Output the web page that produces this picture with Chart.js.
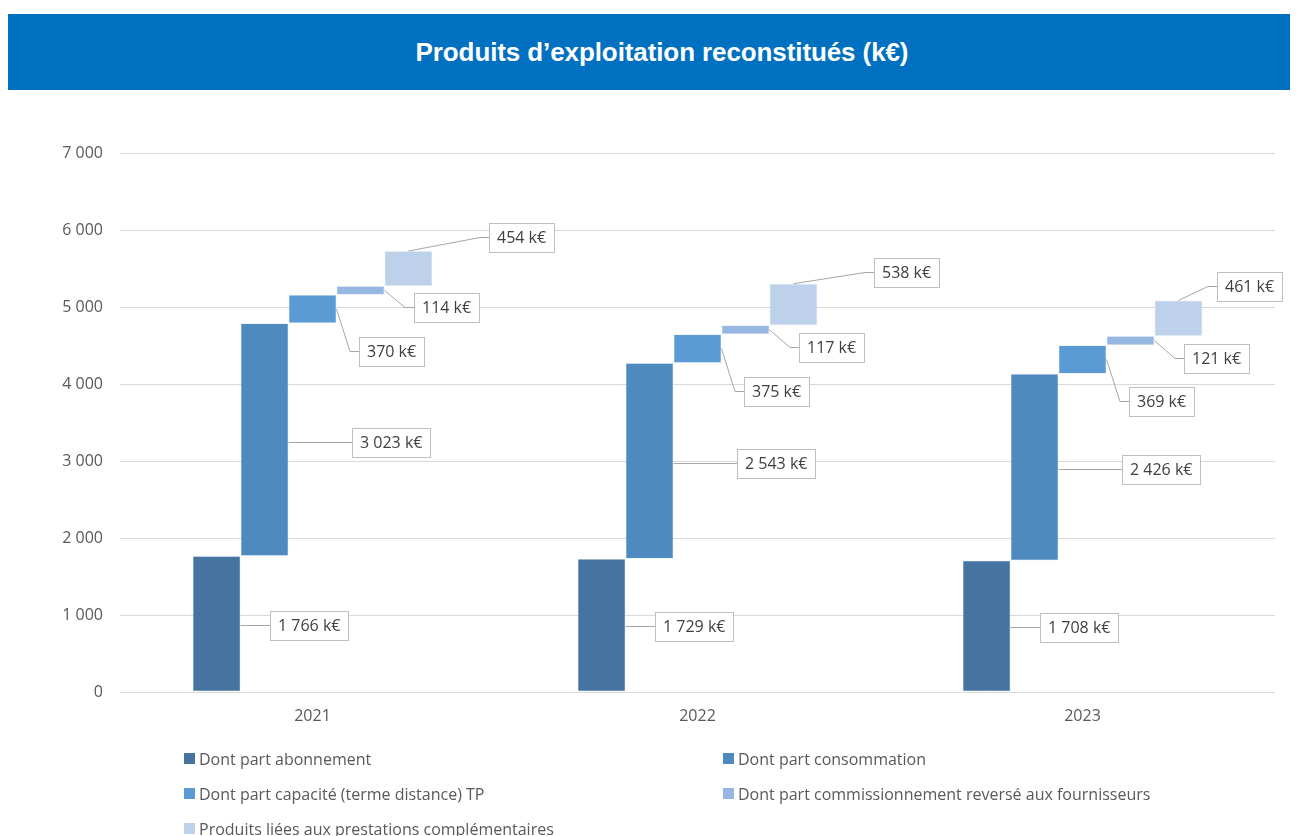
<!DOCTYPE html>
<html lang="fr">
<head>
<meta charset="utf-8">
<title>Produits d'exploitation reconstitués</title>
<script src="https://cdn.jsdelivr.net/npm/chart.js@4.4.1/dist/chart.umd.min.js"></script>
<style>
  body { margin: 0; background: #fff; width: 1299px; height: 836px; overflow: hidden; position: relative; font-family: 'Open Sans', sans-serif; }
  #title { position: absolute; left: 8px; top: 14px; width: 1256px; height: 76px; padding-left: 26px; background: #0070c0; color: #fff;
           font: bold 26px 'Liberation Sans', Arial, sans-serif; letter-spacing: -0.1px;
           display: flex; align-items: center; justify-content: center; }
  #wrap { position: absolute; left: 0; top: 100px; width: 1299px; height: 650px; }
  #legend { position: absolute; left: 184px; top: 741px; display: grid; grid-template-columns: 539px auto; grid-auto-rows: 35px;
            font-size: 16px; color: #595959; }
  #legend div { display: flex; align-items: center; white-space: nowrap; }
  #legend span { display: inline-block; width: 11px; height: 11px; margin-right: 4px; }
</style>
</head>
<body>
<div id="title">Produits d’exploitation reconstitués (k€)</div>
<div id="wrap"><canvas id="chart"></canvas></div>
<div id="legend"></div>
<script>
// years on the x axis
const years = ['2021', '2022', '2023'];

// each component of the operating income, in k€
const abonnement = [1766, 1729, 1708];
const consommation = [3023, 2543, 2426];
const capacite = [370, 375, 369];
const commissionnement = [114, 117, 121];
const prestations = [454, 538, 461];

const seriesNames = [
  'Dont part abonnement',
  'Dont part consommation',
  'Dont part capacité (terme distance) TP',
  'Dont part commissionnement reversé aux fournisseurs',
  'Produits liées aux prestations complémentaires'
];
const seriesValues = [abonnement, consommation, capacite, commissionnement, prestations];
const colors = ['#44749f', '#4f8abf', '#5b9bd5', '#95b7e1', '#bdd1eb'];

// y axis ticks
const yTicks = [0, 1000, 2000, 3000, 4000, 5000, 6000, 7000];

// callout placement per series: box left from bar right edge, box centre from bar middle
const calloutDx = [29, 63, 23, 30, 57];
const calloutDy = [1, 2, 42, 17, -32];

function fmt(v) {
  return String(v).replace(/\B(?=(\d{3})+(?!\d))/g, ' ');
}

// waterfall: each piece floats on top of the running total
let running = years.map(() => 0);
const datasets = seriesValues.map((vals, s) => {
  const data = vals.map((v, i) => [running[i], running[i] + v]);
  running = running.map((r, i) => r + vals[i]);
  return {
    label: seriesNames[s],
    data: data,
    values: vals,
    backgroundColor: colors[s],
    borderColor: 'rgba(220,231,244,0.7)',
    borderWidth: 0.75,
    borderSkipped: false,
    categoryPercentage: 0.623,
    barPercentage: 1
  };
});

// boxed value labels with leader lines
const callouts = {
  id: 'callouts',
  afterDatasetsDraw(chart) {
    const ctx = chart.ctx;
    ctx.save();
    ctx.font = "16px 'Open Sans', sans-serif";
    ctx.textBaseline = 'middle';
    ctx.textAlign = 'left';
    chart.data.datasets.forEach((ds, s) => {
      chart.getDatasetMeta(s).data.forEach((bar, i) => {
        const text = fmt(ds.values[i]) + ' k€';
        const top = Math.min(bar.y, bar.base);
        const bottom = Math.max(bar.y, bar.base);
        const right = bar.x + bar.width / 2;
        const mid = (top + bottom) / 2;
        const w = Math.round(ctx.measureText(text).width + 16);
        const h = 29;
        let left = Math.round(right + calloutDx[s]);
        if (left + w > chart.width - 17) left = chart.width - 17 - w;
        const cy = Math.round(mid + calloutDy[s]) + 0.5;

        ctx.strokeStyle = '#a6a6a6';
        ctx.lineWidth = 1;
        ctx.beginPath();
        if (cy >= top && cy <= bottom) {
          ctx.moveTo(right, cy);
        } else if (cy < top) {
          ctx.moveTo(bar.x, top);
          ctx.lineTo(left - 9, cy);
        } else {
          ctx.moveTo(right, mid);
          ctx.lineTo(left - 9, cy);
        }
        ctx.lineTo(left, cy);
        ctx.stroke();

        const boxTop = Math.round(cy - h / 2) + 0.5;
        ctx.fillStyle = '#fff';
        ctx.fillRect(left + 0.5, boxTop, w, h);
        ctx.strokeStyle = '#bfbfbf';
        ctx.strokeRect(left + 0.5, boxTop, w, h);
        ctx.fillStyle = '#404040';
        ctx.fillText(text, left + 8, cy + 1);
      });
    });
    ctx.restore();
  }
};

Chart.defaults.font.family = "'Open Sans', sans-serif";
Chart.defaults.font.size = 16;
Chart.defaults.color = '#595959';

new Chart(document.getElementById('chart'), {
  type: 'bar',
  data: { labels: years, datasets: datasets },
  options: {
    responsive: true,
    maintainAspectRatio: false,
    animation: false,
    layout: { padding: { top: 53, right: 24, left: 0, bottom: 0 } },
    plugins: {
      legend: { display: false },
      tooltip: { enabled: false }
    },
    scales: {
      x: {
        grid: { display: false, drawTicks: false },
        border: { display: false },
        ticks: { padding: 15 },
        afterFit(scale) { scale.height = 58; }
      },
      y: {
        min: yTicks[0],
        max: yTicks[yTicks.length - 1],
        grid: { color: '#d9d9d9', drawTicks: false },
        border: { display: false },
        afterBuildTicks(scale) { scale.ticks = yTicks.map(v => ({ value: v })); },
        ticks: { padding: 17, callback: v => fmt(v) },
        afterFit(scale) { scale.width = 120; }
      }
    }
  },
  plugins: [callouts]
});

// legend in two columns
const legend = document.getElementById('legend');
seriesNames.forEach((name, s) => {
  const item = document.createElement('div');
  item.innerHTML = '<span style="background:' + colors[s] + '"></span>' + name;
  legend.appendChild(item);
});
</script>
</body>
</html>
